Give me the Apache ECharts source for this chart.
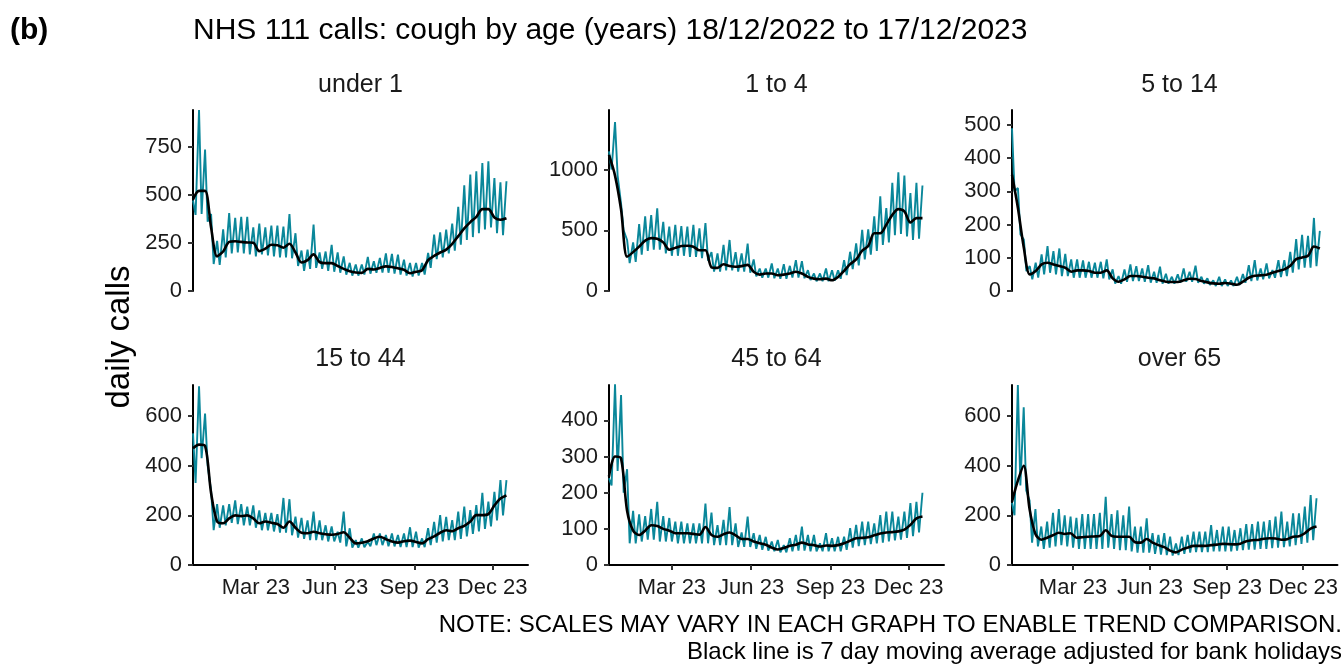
<!DOCTYPE html>
<html><head><meta charset="utf-8">
<script src="https://cdn.jsdelivr.net/npm/echarts@6/dist/echarts.min.js"></script>
<style>html,body{margin:0;padding:0;background:#fff}#c{width:1341px;height:664px}</style>
</head><body><div id="c"></div>
<script>
// ---- data (weekly readings: peaks on Sundays from 18/12/2022, troughs mid-week, 7-day MA on Sundays) ----
const panelNames = ['under 1','1 to 4','5 to 14','15 to 44','45 to 64','over 65'];
const yMax = [940, 1490, 545, 725, 498, 725];
const yTicks_under1 = [0,250,500,750];
const yTicks_1to4 = [0,500,1000];
const yTicks_5to14 = [0,100,200,300,400,500];
const yTicks_15to44 = [0,200,400,600];
const yTicks_45to64 = [0,100,200,300,400];
const yTicks_over65 = [0,200,400,600];
const startDate = '2022-12-18';
const xTickDates = ['2023-03-01','2023-06-01','2023-09-01','2023-12-01'];
const xTickLabels = ['Mar 23','Jun 23','Sep 23','Dec 23'];

const peaks_under1 = [470,940,735,400,260,320,405,380,385,385,330,350,330,340,340,335,400,300,210,215,345,200,205,240,200,180,146,138,138,177,155,172,195,193,189,163,146,146,146,198,293,305,319,350,437,549,605,622,665,674,587,565,570];
const troughs_under1 = [395,400,360,140,135,175,195,200,195,190,180,190,185,180,175,175,170,130,105,115,120,115,105,100,95,85,80,80,85,90,95,95,95,90,85,80,75,80,85,120,165,175,195,210,240,265,280,300,320,330,300,290];
const ma_under1 = [475,520,520,330,180,205,255,258,255,252,250,207,220,240,238,225,245,200,148,160,190,150,145,145,130,115,103,96,94,115,112,120,128,125,118,110,92,100,108,160,182,200,215,245,285,325,358,385,425,425,382,370,378];

const peaks_1to4 = [1150,1390,720,420,400,550,615,625,680,570,530,545,535,530,545,515,560,320,310,380,420,320,310,390,260,185,185,227,185,221,207,254,246,171,144,144,185,171,171,254,323,392,503,508,614,780,683,890,978,951,807,890,868];
const troughs_1to4 = [1000,950,500,230,240,300,330,340,340,310,290,290,290,280,280,270,250,160,160,170,170,160,160,150,120,110,110,105,100,100,110,110,105,90,80,80,80,85,100,130,180,210,260,300,330,380,400,460,470,450,420,430];
const ma_1to4 = [1120,950,670,282,320,365,415,435,430,400,340,355,370,373,365,335,335,195,190,220,205,200,205,215,158,135,144,144,130,135,144,158,144,116,102,97,102,88,116,166,221,260,332,370,475,475,545,627,674,655,564,600,600];

const peaks_5to14 = [490,310,155,75,85,110,135,120,128,112,95,95,92,88,85,88,95,65,45,65,80,75,68,78,58,73,52,43,50,68,58,76,43,38,32,43,35,32,43,51,78,93,68,83,63,93,93,118,156,169,166,220,181];
const troughs_5to14 = [300,170,60,35,40,50,55,50,45,45,40,40,40,40,40,38,35,22,22,28,30,30,28,25,25,22,22,22,25,28,28,25,22,18,15,15,15,15,18,25,30,32,35,38,40,42,45,55,65,70,70,75];
const ma_5to14 = [350,250,130,50,60,80,85,80,75,70,58,62,62,60,55,55,62,38,28,35,45,45,43,40,38,32,28,27,27,32,37,36,30,26,23,22,24,22,19,28,40,46,47,49,55,60,65,76,96,101,106,134,128];

const peaks_15to44 = [530,720,610,300,245,240,245,260,245,235,240,220,210,210,205,270,265,195,190,180,215,180,160,155,134,215,148,100,107,94,127,127,121,127,121,127,152,134,107,148,174,201,194,181,215,235,221,241,291,255,295,342,342];
const troughs_15to44 = [330,430,400,140,150,160,170,165,160,160,150,140,140,135,130,130,120,110,105,100,100,100,95,95,90,75,70,70,72,75,80,80,75,75,72,72,72,70,72,80,90,95,100,100,105,115,125,135,145,155,180,200];
const ma_15to44 = [470,485,480,290,175,168,188,200,197,200,188,168,175,170,165,150,175,150,130,128,134,128,124,122,125,132,110,87,90,96,107,114,104,95,90,96,98,93,87,104,115,130,140,136,148,158,175,201,201,205,240,268,280];

const peaks_45to64 = [240,500,470,265,150,140,135,155,175,135,130,120,120,115,115,115,170,145,110,125,160,115,90,134,88,83,78,65,69,55,74,83,106,83,83,60,88,74,78,78,102,111,120,120,115,138,148,148,134,148,171,175,200];
const troughs_45to64 = [220,260,200,60,60,65,70,70,65,65,65,60,60,60,60,60,60,55,55,55,55,50,50,50,45,42,40,38,35,35,38,40,40,38,38,38,38,38,38,42,48,52,55,58,60,62,65,68,70,75,80,90];
const ma_45to64 = [245,300,295,150,95,83,95,110,108,100,95,88,88,88,86,84,105,83,78,85,90,82,72,72,65,60,56,48,43,47,53,56,62,57,55,51,54,53,55,60,67,74,75,77,82,87,90,91,93,98,111,129,134];

const peaks_over65 = [250,725,635,260,225,155,175,210,225,200,195,190,205,205,205,210,275,205,220,200,235,155,155,188,128,121,128,114,87,114,121,134,134,134,161,141,155,155,141,148,165,165,175,175,181,195,215,175,208,208,235,282,269];
const troughs_over65 = [200,320,300,90,75,65,70,75,80,75,70,65,65,65,65,65,70,65,60,60,55,50,50,50,45,42,40,38,40,45,50,52,52,52,55,55,55,55,58,60,62,62,65,65,68,70,72,75,80,85,90,100];
const ma_over65 = [255,340,400,225,125,102,110,120,130,125,128,110,112,114,115,117,140,117,114,114,114,92,90,105,90,80,72,58,51,62,70,77,77,77,80,82,85,84,83,86,96,100,101,106,108,107,102,104,114,116,128,147,155];

// ---- build (x = days since start date) ----
function dayNum(s){ const p = s.split('-').map(Number); return Date.UTC(p[0], p[1]-1, p[2]) / 86400000; }
const d0 = dayNum(startDate);
const xTickVals = xTickDates.map(s => dayNum(s) - d0);
const xEnd = 389;
function tealData(pk, tr){ const out = []; for (let k = 0; k < pk.length; k++){ out.push([7*k, pk[k]]); if (k < tr.length) out.push([7*k+3, tr[k]]); } return out; }
function maData(ma){ return ma.map((v,k) => [7*k, v]); }

const peaks = [peaks_under1, peaks_1to4, peaks_5to14, peaks_15to44, peaks_45to64, peaks_over65];
const troughs = [troughs_under1, troughs_1to4, troughs_5to14, troughs_15to44, troughs_45to64, troughs_over65];
const mas = [ma_under1, ma_1to4, ma_5to14, ma_15to44, ma_45to64, ma_over65];
const yTicks = [yTicks_under1, yTicks_1to4, yTicks_5to14, yTicks_15to44, yTicks_45to64, yTicks_over65];

const FONT = '"Liberation Sans", Arial, sans-serif';
const TICK_FS = 22;
const cols = [193, 609, 1012];
const rows = [110, 385];
const W = 335;
const grids = [], xAxes = [], yAxes = [], series = [], graphics = [];
for (let i = 0; i < 6; i++){
  const c = i % 3, r = Math.floor(i / 3);
  grids.push({left: cols[c], top: rows[r], width: W, height: (r === 0 ? 181 : 180)});
  const bottom = r === 1;
  xAxes.push({
    gridIndex: i, type: 'value', min: 0, max: xEnd,
    axisLine: {show: bottom, onZero: false, lineStyle: {color: '#000', width: 2}},
    axisTick: {show: bottom, length: 5, lineStyle: {color: '#333', width: 2}, customValues: xTickVals},
    axisLabel: {show: bottom, customValues: xTickVals, fontSize: TICK_FS, color: '#1a1a1a', fontFamily: FONT, margin: 12,
      formatter: function(v){ const idx = xTickVals.indexOf(v); return idx >= 0 ? xTickLabels[idx] : ''; }},
    splitLine: {show: false}
  });
  yAxes.push({
    gridIndex: i, type: 'value', min: 0, max: yMax[i],
    axisLine: {show: true, lineStyle: {color: '#000', width: 2}},
    axisTick: {show: true, length: 5, lineStyle: {color: '#333', width: 2}, customValues: yTicks[i]},
    axisLabel: {customValues: yTicks[i], fontSize: TICK_FS, color: '#1a1a1a', fontFamily: FONT, margin: 11,
      formatter: function(v){ return String(v); }},
    splitLine: {show: false}
  });
  series.push({type: 'line', xAxisIndex: i, yAxisIndex: i, data: tealData(peaks[i], troughs[i]), showSymbol: false,
    lineStyle: {color: '#0a879a', width: 1.9}, z: 2, animation: false});
  series.push({type: 'line', xAxisIndex: i, yAxisIndex: i, data: maData(mas[i]), showSymbol: false, smooth: 0.3,
    lineStyle: {color: '#000', width: 2.6}, z: 3, animation: false});
  graphics.push({type: 'text', x: cols[c] + W/2, y: (r === 0 ? 85 : 359),
    style: {text: panelNames[i], font: '25px ' + FONT, fill: '#1a1a1a', textAlign: 'center', textVerticalAlign: 'middle', verticalAlign: 'middle'}});
}
graphics.push({type: 'text', x: 10, y: 31, style: {text: '(b)', font: 'bold 30px ' + FONT, fill: '#000', textAlign: 'left', textVerticalAlign: 'middle', verticalAlign: 'middle'}});
graphics.push({type: 'text', x: 193, y: 31, style: {text: 'NHS 111 calls: cough by age (years) 18/12/2022 to 17/12/2023', font: '30px ' + FONT, fill: '#000', textAlign: 'left', textVerticalAlign: 'middle', verticalAlign: 'middle'}});
graphics.push({type: 'text', x: 120, y: 337, rotation: Math.PI/2, style: {text: 'daily calls', font: '33px ' + FONT, fill: '#000', textAlign: 'center', textVerticalAlign: 'middle', verticalAlign: 'middle'}});
graphics.push({type: 'text', x: 1342, y: 625, style: {text: 'NOTE: SCALES MAY VARY IN EACH GRAPH TO ENABLE TREND COMPARISON.', font: '24px ' + FONT, fill: '#000', textAlign: 'right', textVerticalAlign: 'middle', verticalAlign: 'middle'}});
graphics.push({type: 'text', x: 1342, y: 652, style: {text: 'Black line is 7 day moving average adjusted for bank holidays', font: '24px ' + FONT, fill: '#000', textAlign: 'right', textVerticalAlign: 'middle', verticalAlign: 'middle'}});

const chart = echarts.init(document.getElementById('c'), null, {renderer: 'canvas'});
chart.setOption({animation: false, backgroundColor: '#fff', grid: grids, xAxis: xAxes, yAxis: yAxes, series: series, graphic: graphics});
</script></body></html>
